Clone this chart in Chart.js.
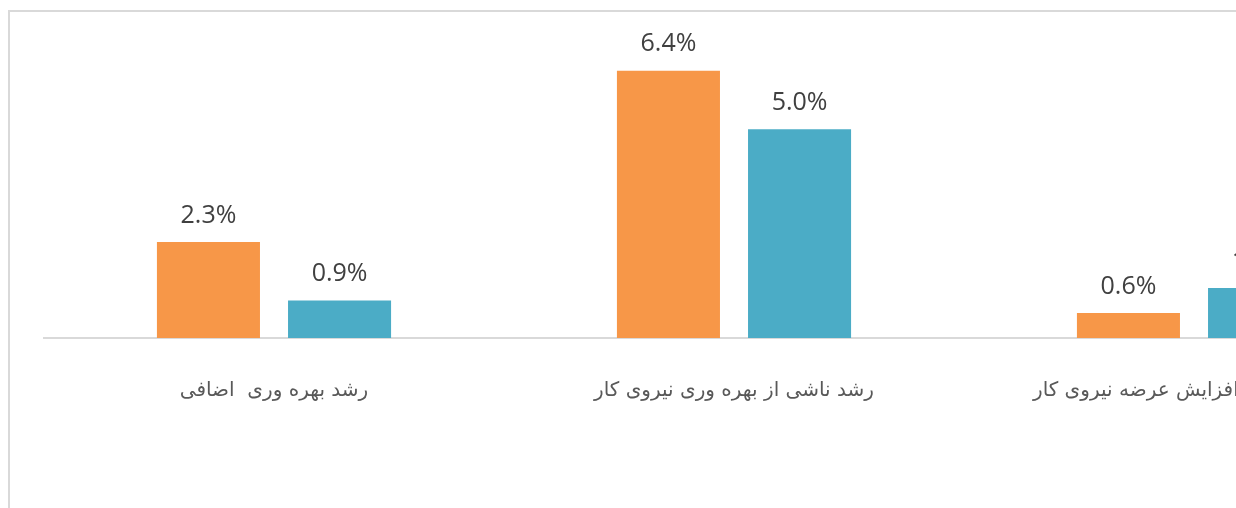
<!DOCTYPE html>
<html>
<head>
<meta charset="utf-8">
<script src="https://cdn.jsdelivr.net/npm/chart.js@4"></script>
<style>
    html, body { margin: 0; padding: 0; background: #fff; overflow: hidden; }
    #wrap { position: relative; width: 1236px; height: 508px; overflow: hidden; }
    #frame { position: absolute; left: 8px; top: 10px; width: 1300px; height: 600px;
             border-top: 2px solid #d9d9d9; border-left: 2px solid #d9d9d9; }
    #diagram { position: absolute; left: 0; top: 0; }
</style>
</head>
<body>
<div id="wrap">
    <div id="frame"></div>
    <canvas id="diagram" width="1440" height="508"></canvas>
</div>
<script>
const categories = ["رشد بهره وری  اضافی", "رشد ناشی از بهره وری نیروی کار", "رشد ناشی از افزایش عرضه نیروی کار"];
const seriesA = [2.3, 6.4, 0.6];
const seriesB = [0.9, 5.0, 1.2];
const seriesNames = ["سری ۱", "سری ۲"];

const valueLabels = {
    id: 'valueLabels',
    afterDatasetsDraw(chart) {
        const ctx = chart.ctx;
        ctx.save();
        ctx.font = '25px "Open Sans", "DejaVu Sans", sans-serif';
        ctx.fillStyle = '#404040';
        ctx.textAlign = 'center';
        ctx.textBaseline = 'bottom';
        chart.data.datasets.forEach((ds, i) => {
            chart.getDatasetMeta(i).data.forEach((bar, j) => {
                ctx.fillText(ds.data[j].toFixed(1) + '%', bar.x, bar.y - 14);
            });
        });
        ctx.restore();
    }
};

new Chart(
    document.getElementById("diagram"),
    {
        type: 'bar',
        data: {
            labels: categories,
            datasets: [
                {
                    label: seriesNames[0],
                    data: seriesA,
                    backgroundColor: 'rgb(247,151,72)'
                },
                {
                    label: seriesNames[1],
                    data: seriesB,
                    backgroundColor: 'rgb(75,172,198)'
                }
            ]
        },
        options: {
            responsive: false,
            animation: false,
            categoryPercentage: 0.57,
            barPercentage: 0.786,
            layout: {
                padding: { left: 44, right: 16, top: 4, bottom: 72 }
            },
            scales: {
                x: {
                    grid: { display: false },
                    border: { display: true, color: '#d9d9d9', width: 2 },
                    ticks: {
                        padding: 33,
                        color: '#595959',
                        font: { family: '"DejaVu Sans", sans-serif', size: 20 }
                    }
                },
                y: {
                    display: false,
                    min: 0,
                    max: 8
                }
            },
            plugins: {
                legend: { display: false },
                tooltip: { enabled: false }
            }
        },
        plugins: [valueLabels]
    }
);
</script>
</body>
</html>
